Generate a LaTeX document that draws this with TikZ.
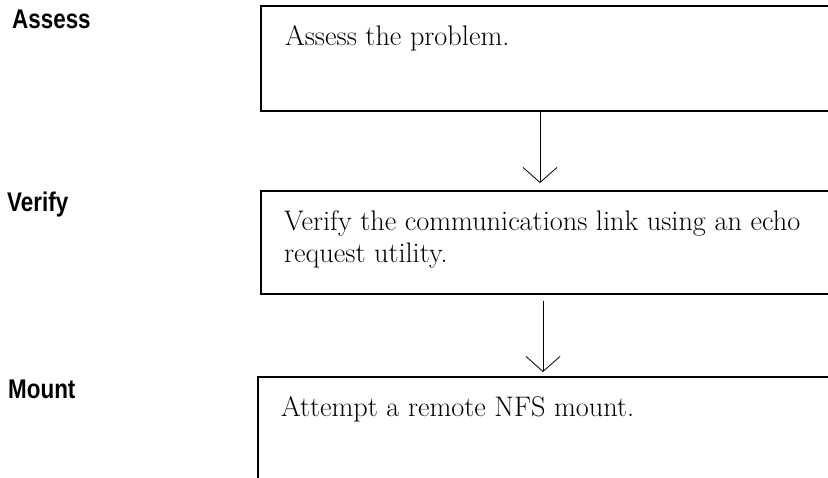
\documentclass[tikz,border=0pt]{standalone}
\usepackage{fontspec}
\usetikzlibrary{arrows.meta,positioning}
\newfontfamily\labelfont{Liberation Sans}[BoldFont={Liberation Sans Bold}]
\newcommand{\steptitle}[1]{\scalebox{0.83}[1]{\labelfont\bfseries #1}}

\begin{document}
\begin{tikzpicture}[x=1pt, y=-1pt,
        stepbox/.style={draw, line width=1.6pt, minimum width=600pt,
            minimum height=#1, anchor=north west, inner sep=0pt},
        boxtext/.style={anchor=base west, inner sep=0pt, align=left,
            font=\fontsize{28.3}{32}\selectfont},
        steplabel/.style={anchor=base west, inner sep=0pt,
            font=\fontsize{27}{30}\selectfont},
        flow/.style={line width=1pt,
            -{Straight Barb[length=15pt, width=34pt, line width=0.8pt]}}]

        \useasboundingbox (0,0) rectangle (828,477);
        \clip (0,0) rectangle (828,477);

        % the three steps, open to the right
        \node (assess) [stepbox=105pt] at (260,5) {};
        \node (verify) [stepbox=103pt] at (260,190) {};
        \node (mount)  [stepbox=150pt] at (257,376) {};

        % base of a two-line node is its last line
        \node (tassess) [boxtext] at ([xshift=25pt, yshift=-40pt]assess.north west)
            {Assess the problem.};
        \node (tverify) [boxtext] at ([xshift=24pt, yshift=-72pt]verify.north west)
            {Verify the communications link using an echo\\request utility.};
        \node (tmount)  [boxtext] at ([xshift=24pt, yshift=-40pt]mount.north west)
            {Attempt a remote NFS mount.};

        % step names
        \node (lassess) [steplabel] at (12,28)  {\steptitle{Assess}};
        \node (lverify) [steplabel] at (7,211)  {\steptitle{Verify}};
        \node (lmount)  [steplabel] at (8,398)  {\steptitle{Mount}};

        \draw[flow] ([xshift=280pt]assess.south west)
            -- ([xshift=280pt, yshift=7pt]verify.north west);
        \draw[flow] ([xshift=283pt, yshift=-6pt]verify.south west)
            -- ([xshift=286pt, yshift=4pt]mount.north west);

    \end{tikzpicture}
\end{document}
